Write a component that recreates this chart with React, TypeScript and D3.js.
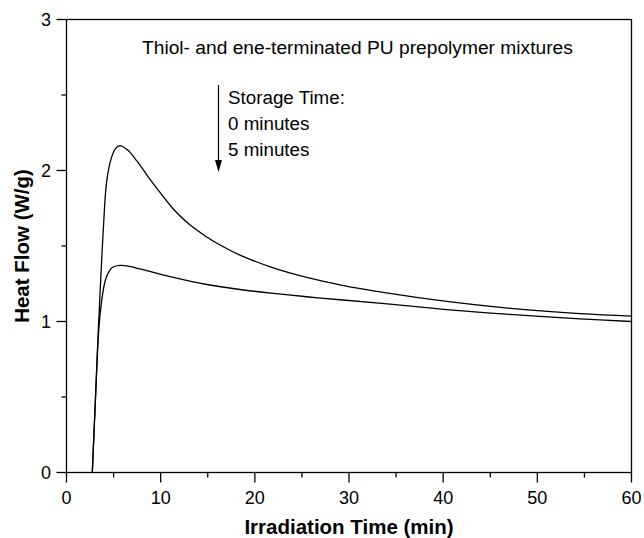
import React from "react";
import * as d3 from "d3";

const timeA = [2.74, 3.05, 3.38, 3.65, 3.91, 4.27, 4.8, 5.2, 5.68, 6.5, 7.45, 8.6, 9.93, 11.34, 13.0, 14.89, 16.5, 18.42, 21.96, 25.51, 29.04, 33.8, 40.37, 47.45, 54.53, 60];
const heatA = [0.0, 0.45, 0.945, 1.3, 1.61, 1.93, 2.09, 2.145, 2.165, 2.135, 2.065, 1.965, 1.855, 1.745, 1.645, 1.56, 1.5, 1.44, 1.355, 1.292, 1.243, 1.191, 1.133, 1.085, 1.052, 1.035];

const timeB = [2.74, 3.05, 3.42, 3.7, 4.0, 4.27, 4.8, 5.68, 6.7, 7.81, 9.93, 11.34, 14.89, 18.42, 21.96, 25.51, 29.04, 33.8, 40.37, 47.45, 54.53, 60];
const heatB = [0.0, 0.45, 0.94, 1.12, 1.24, 1.3, 1.355, 1.372, 1.365, 1.348, 1.314, 1.292, 1.245, 1.212, 1.186, 1.164, 1.144, 1.118, 1.079, 1.045, 1.018, 1.0];

const xTicks = [0, 10, 20, 30, 40, 50, 60];
const xMinorTicks = [5, 15, 25, 35, 45, 55];
const yTicks = [0, 1, 2, 3];
const yMinorTicks = [0.5, 1.5, 2.5];

const titleText = "Thiol- and ene-terminated PU prepolymer mixtures";
const legendLines = ["Storage Time:", "0 minutes", "5 minutes"];

export default function App() {
  const W = 644, H = 538;
  const left = 66.5, right = 631.5, top = 19.5, bottom = 472.5;
  const x = d3.scaleLinear().domain([0, 60]).range([left, right]);
  const y = d3.scaleLinear().domain([0, 3]).range([bottom, top]);
  const mk = (ts: number[], vs: number[]) =>
    d3.line<number>()
      .x((_, i) => x(ts[i]))
      .y((v) => y(v))
      .curve(d3.curveCatmullRom.alpha(0.5))(vs) as string;
  const font = "Arial, 'Liberation Sans', Helvetica, sans-serif";
  const sw = 1.3;
  const arrowX = 218.5;
  return (
    <svg width={W} height={H} style={{ position: "absolute", left: 0, top: 0, background: "#fff" }} fontFamily={font}>
      <rect x={0} y={0} width={W} height={H} fill="#fff" />
      {/* curves */}
      <path d={mk(timeA, heatA)} fill="none" stroke="#000" strokeWidth={sw} />
      <path d={mk(timeB, heatB)} fill="none" stroke="#000" strokeWidth={sw} />
      {/* frame */}
      <rect x={left} y={top} width={right - left} height={bottom - top} fill="none" stroke="#000" strokeWidth={sw} />
      {/* x ticks */}
      {xTicks.map((t) => (
        <g key={"x" + t}>
          <line x1={x(t)} x2={x(t)} y1={bottom} y2={bottom + 10} stroke="#000" strokeWidth={sw} />
          <text x={x(t)} y={504} textAnchor="middle" fontSize={18} fill="#000">{t}</text>
        </g>
      ))}
      {xMinorTicks.map((t) => (
        <line key={"xm" + t} x1={x(t)} x2={x(t)} y1={bottom} y2={bottom + 5} stroke="#000" strokeWidth={sw} />
      ))}
      {yTicks.map((t) => (
        <g key={"y" + t}>
          <line x1={left - 10} x2={left} y1={y(t)} y2={y(t)} stroke="#000" strokeWidth={sw} />
          <text x={51} y={y(t) + 6.5} textAnchor="end" fontSize={18} fill="#000">{t}</text>
        </g>
      ))}
      {yMinorTicks.map((t) => (
        <line key={"ym" + t} x1={left - 5} x2={left} y1={y(t)} y2={y(t)} stroke="#000" strokeWidth={sw} />
      ))}
      {/* axis titles */}
      <text x={(left + right) / 2} y={534} textAnchor="middle" fontSize={20.5} fontWeight="bold" fill="#000">
        Irradiation Time (min)
      </text>
      <text transform={`translate(29,${(top + bottom) / 2}) rotate(-90)`} textAnchor="middle" fontSize={20.5} fontWeight="bold" fill="#000">
        Heat Flow (W/g)
      </text>
      {/* annotation */}
      <text x={142} y={54} fontSize={19.2} fill="#000">{titleText}</text>
      <line x1={arrowX} x2={arrowX} y1={85} y2={162} stroke="#000" strokeWidth={1.2} />
      <path d={`M${arrowX - 3.5},${160} L${arrowX + 3.5},${160} L${arrowX},${172} Z`} fill="#000" />
      {legendLines.map((s, i) => (
        <text key={s} x={228} y={104 + i * 26} fontSize={18.8} fill="#000">{s}</text>
      ))}
    </svg>
  );
}
